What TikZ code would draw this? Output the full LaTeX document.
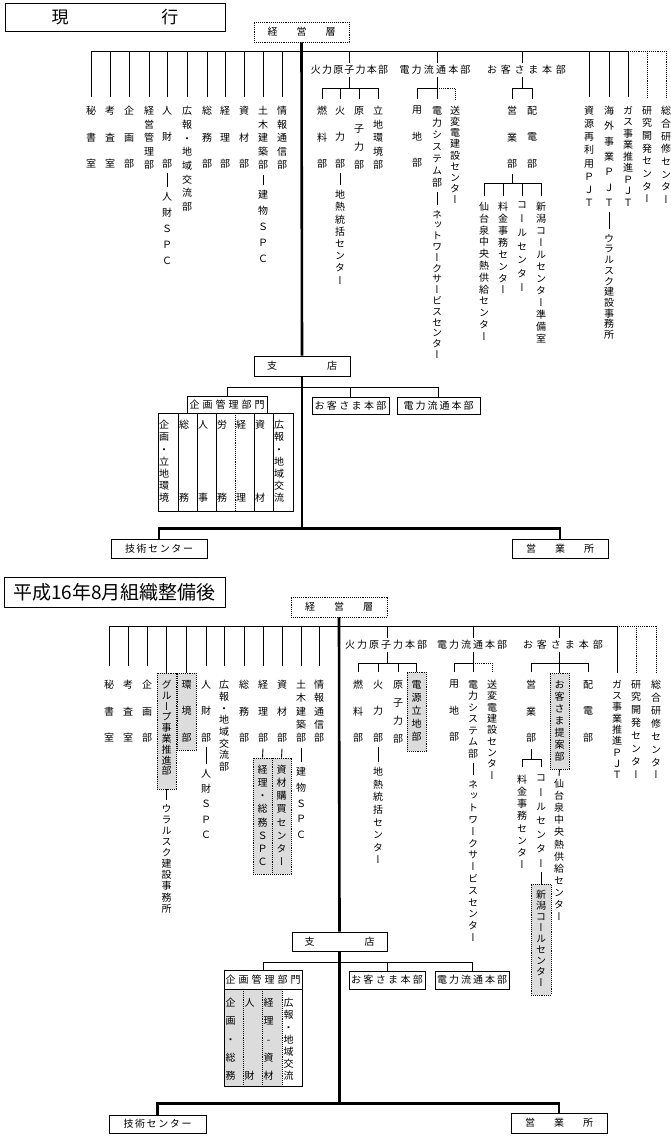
\documentclass[tikz,border=0pt]{standalone}
\usepackage{fontspec}
\setmainfont{Noto Sans CJK JP}
\newfontfamily\vf{Noto Sans CJK JP}[RawFeature=+vert]
\usetikzlibrary{calc}
\definecolor{boxgray}{HTML}{DCDCDC}
\def\vtend{VTEND}
\newdimen\chpitch
\def\vst#1#2{\vbox{\baselineskip=#1\relax\lineskiplimit=-100pt\relax\lineskip=0pt\relax\expandafter\vstl#2\vtend}}
\def\vstl#1{\ifx#1\vtend\else\hbox to 1.2em{\hss#1\hss}\expandafter\vstl\fi}
\def\hst#1#2{\chpitch=#1\relax\expandafter\hstl#2\vtend}
\def\hstl#1{\ifx#1\vtend\else\hbox to\chpitch{\hss#1\hss}\expandafter\hstl\fi}
\newcommand\VL[5]{\node[vt] (#1) at (#2,#3) {\vst{#4pt}{#5}};}
\newcommand\DROP[4][]{\draw[ln,#1] (#3.north |- #2) -- ([yshift=#4pt]#3.north);}
\newcommand\TICK[2]{\draw[ln] ([yshift=-5pt]#1.south) -- ([yshift=5pt]#2.north);}
\begin{document}
\begin{tikzpicture}[x=1pt,y=-1pt,
  ln/.style={line width=0.9pt},
  trunk/.style={line width=2.6pt},
  vt/.style={inner sep=0pt, anchor=north, font=\vf\fontsize{10pt}{12pt}\selectfont},
  ht/.style={inner sep=0pt, font=\fontsize{10pt}{12pt}\selectfont},
  bx/.style={draw, line width=0.9pt, inner sep=0pt, font=\fontsize{10pt}{12pt}\selectfont},
  dbx/.style={bx, densely dotted},
  gbx/.style={draw, densely dotted, line width=0.9pt, fill=boxgray, inner sep=0pt}]
\useasboundingbox (0,0) rectangle (670,1136);

% ================= TOP: current =================
\node[bx, minimum width=220pt, minimum height=28pt, font=\fontsize{17pt}{17pt}\selectfont] (title1) at (115,17) {現\hspace{93pt}行};
\node[dbx, minimum width=95pt, minimum height=20pt] (keiei1) at (301.5,32) {経\hspace{19pt}営\hspace{19pt}層};
\coordinate (bar1) at (0,51);
\coordinate (sb1) at (0,88);
\coordinate (sb1b) at (0,183);

\VL{hisho1}{91}{106}{26.5}{秘書室}
\VL{kousa1}{110}{106}{26.5}{考査室}
\VL{kikaku1}{129}{106}{26.5}{企画部}
\VL{keikan1}{149}{106}{13.5}{経営管理部}
\VL{jinzai1}{167}{106}{26.5}{人財部}
\VL{jspc1}{167}{192}{16}{人財ＳＰＣ}
\VL{kouhou1}{187}{106}{13.7}{広報・地域交流部}
\VL{soumu1}{207}{106}{26.5}{総務部}
\VL{keiri1}{225}{106}{26.5}{経理部}
\VL{shizai1}{244}{106}{26.5}{資材部}
\VL{doboku1}{263}{106}{13.5}{土木建築部}
\VL{tspc1}{263}{190}{16}{建物ＳＰＣ}
\VL{jouhou1}{282}{106}{13.5}{情報通信部}

\node[ht] (hk1) at (349.5,70) {\hst{11.2pt}{火力原子力本部}};
\VL{nenryou1}{322}{106}{26.5}{燃料部}
\VL{karyoku1}{340}{106}{26.5}{火力部}
\VL{chinetsu1}{340}{190}{12.2}{地熱統括センター}
\VL{genshi1}{359}{106}{18}{原子力部}
\VL{ritchi1}{378}{106}{13.5}{立地環境部}

\node[ht] (hd1) at (435,70) {\hst{12.2pt}{電力流通本部}};
\VL{youchi1}{417}{106}{26.5}{用地部}
\VL{densys1}{437}{106}{12}{電力システム部}
\VL{network1}{437}{210}{10.8}{ネットワークサービスセンター}
\VL{souhen1}{455}{106}{11.1}{送変電建設センター}

\node[ht] (ho1) at (526.5,70) {\hst{13.8pt}{お客さま本部}};
\VL{eigyou1}{512}{106}{26.5}{営業部}
\VL{haiden1}{532}{106}{26.5}{配電部}
\VL{sendai1}{484}{202}{11.8}{仙台泉中央熱供給センター}
\VL{ryoukin1}{503}{202}{11.9}{料金事務センター}
\VL{call1}{522}{202}{13.7}{コールセンター}
\VL{niigata1}{541}{202}{12}{新潟コールセンター準備室}

\VL{shigen1}{589}{106}{13.1}{資源再利用ＰＪＴ}
\VL{kaigai1}{609}{106}{15.3}{海外事業ＰＪＴ}
\VL{ural1}{609}{234}{10.7}{ウラルスク建設事務所}
\VL{gas1}{628}{106}{11.5}{ガス事業推進ＰＪＴ}
\VL{kenkyu1}{647}{106}{12.7}{研究開発センター}
\VL{kenshu1}{666}{106}{12.7}{総合研修センター}

% top bar and drops
\draw[ln] (hisho1.north |- bar1) -- (gas1.north |- bar1);
\draw[ln, densely dotted] (gas1.north |- bar1) -- (kenshu1.north |- bar1);
\foreach \n in {hisho1,kousa1,kikaku1,keikan1,jinzai1,kouhou1,soumu1,keiri1,shizai1,doboku1,jouhou1,shigen1,kaigai1,gas1}
  {\DROP{bar1}{\n}{9}}
\DROP[densely dotted]{bar1}{kenkyu1}{9}
\DROP[densely dotted]{bar1}{kenshu1}{9}
\TICK{jinzai1}{jspc1}
\TICK{doboku1}{tspc1}
\TICK{karyoku1}{chinetsu1}
\TICK{densys1}{network1}
\TICK{kaigai1}{ural1}

% thermal/nuclear
\draw[ln] (349,51) -- (349,62.5);
\draw[ln] (349,77) -- (349,88);
\draw[ln] (nenryou1.north |- sb1) -- (ritchi1.north |- sb1);
\foreach \n in {nenryou1,karyoku1,genshi1,ritchi1} {\DROP{sb1}{\n}{7}}
% power network
\draw[ln] (densys1.north |- bar1) -- (437,62.5);
\draw[ln] (437,77) -- (densys1.north |- sb1);
\draw[ln] (youchi1.north |- sb1) -- (densys1.north |- sb1);
\DROP{sb1}{youchi1}{7}
\DROP{sb1}{densys1}{7}
\draw[ln, densely dotted] (densys1.north |- sb1) -- (souhen1.north |- sb1) -- ([yshift=7pt]souhen1.north);
% customer
\draw[ln] (522,51) -- (522,62.5);
\draw[ln] (522,77) -- (522,88);
\draw[ln] (eigyou1.north |- sb1) -- (haiden1.north |- sb1);
\DROP{sb1}{eigyou1}{7}
\DROP{sb1}{haiden1}{7}
\draw[ln] ([yshift=-5pt]eigyou1.south) -- (eigyou1.south |- sb1b);
\draw[ln] (sendai1.north |- sb1b) -- (niigata1.north |- sb1b);
\foreach \n in {sendai1,ryoukin1,call1,niigata1} {\DROP{sb1b}{\n}{6}}

% branch part
\node[bx, minimum width=96pt, minimum height=20pt] (shiten1) at (302,366) {支\hspace{50pt}店};
\draw[trunk] (keiei1.south) -- (shiten1.north);
\coordinate (bar2) at (0,387);
\node[bx, minimum width=80pt, minimum height=17pt] (kk1) at (227,404.5) {\hst{13pt}{企画管理部門}};
\node[bx, minimum width=77pt, minimum height=17pt] (okb1) at (350.5,405.5) {\hst{12.4pt}{お客さま本部}};
\node[bx, minimum width=83pt, minimum height=17pt] (dnb1) at (438.5,405.5) {\hst{12pt}{電力流通本部}};
\draw[ln] (kk1.north) -- (kk1.north |- bar2) -- (dnb1.north |- bar2) -- (dnb1.north);
\draw[ln] (okb1.north |- bar2) -- (okb1.north);
\node[bx, minimum width=135pt, minimum height=98pt] (table1) at (225.5,462) {};
\foreach \xx in {178,197,216,254,273} {\draw[ln] (\xx,413) -- (\xx,511);}
\draw[ln, densely dotted] (235,413) -- (235,511);
\VL{tc1}{164}{420}{12.2}{企画・立地環境}
\VL{tc2}{184}{420}{73}{総務}
\VL{tc3}{203}{420}{73}{人事}
\VL{tc4}{222}{420}{73}{労務}
\VL{tc5}{241}{420}{73}{経理}
\VL{tc6}{260}{420}{73}{資材}
\VL{tc7}{279}{420}{12.2}{広報・地域交流}

\coordinate (bot1) at (0,528.5);
\node[bx, minimum width=96pt, minimum height=19pt] (gijutsu1) at (159,548.5) {\hst{11.6pt}{技術センター}};
\node[bx, minimum width=96pt, minimum height=19pt] (eigyousho1) at (560,548.5) {営\hspace{19pt}業\hspace{19pt}所};
\draw[trunk] (shiten1.south) -- (shiten1.south |- bot1);
\draw[trunk] (gijutsu1.north) -- (gijutsu1.north |- bot1) -- (eigyousho1.north |- bot1) -- (eigyousho1.north);

% ================= BOTTOM: after reorganisation =================
\node[bx, minimum width=221pt, minimum height=30pt, font=\fontsize{19pt}{19pt}\selectfont] (title2) at (114.5,592) {平成16年8月組織整備後};
\node[dbx, minimum width=96pt, minimum height=20pt] (keiei2) at (339,607) {経\hspace{19pt}営\hspace{19pt}層};
\coordinate (bar3) at (0,626);
\coordinate (sb3) at (0,663);
\coordinate (sb4) at (0,759);

\VL{hisho2}{109}{680}{26.5}{秘書室}
\VL{kousa2}{128}{680}{26.5}{考査室}
\VL{kikaku2}{147}{680}{26.5}{企画部}
\node[gbx, minimum width=19pt, minimum height=116pt] (grpbox2) at (166.5,731) {};
\VL{group2}{166.5}{680}{10.8}{グループ事業推進部}
\VL{ural2}{166.5}{804}{11.1}{ウラルスク建設事務所}
\node[gbx, minimum width=19pt, minimum height=77pt] (kkbox2) at (186.5,711.5) {};
\VL{kankyo2}{186.5}{680}{26.5}{環境部}
\VL{jinzai2}{206}{680}{26.5}{人財部}
\VL{jspc2}{206}{769}{15.25}{人財ＳＰＣ}
\VL{kouhou2}{224}{680}{11.7}{広報・地域交流部}
\VL{soumu2}{244}{680}{26.5}{総務部}
\VL{keiri2}{263}{680}{26.5}{経理部}
\node[gbx, minimum width=19pt, minimum height=116pt] (kspcbox2) at (262.5,816) {};
\VL{kspc2}{262.5}{765}{13.1}{経理・総務ＳＰＣ}
\VL{shizai2}{282}{680}{26.5}{資材部}
\node[gbx, minimum width=19pt, minimum height=116pt] (skbox2) at (281.5,816) {};
\VL{skou2}{281.5}{765}{13.1}{資材購買センター}
\VL{doboku2}{301}{680}{13.3}{土木建築部}
\VL{tspc2}{301}{767}{15.75}{建物ＳＰＣ}
\VL{jouhou2}{319}{680}{13.3}{情報通信部}

\node[ht] (hk2) at (386,645) {\hst{12pt}{火力原子力本部}};
\VL{nenryou2}{358}{680}{26.5}{燃料部}
\VL{karyoku2}{378}{680}{26.5}{火力部}
\VL{chinetsu2}{378}{767}{12.6}{地熱統括センター}
\VL{genshi2}{398}{680}{18}{原子力部}
\node[gbx, minimum width=19pt, minimum height=79pt] (dgbox2) at (416.5,711.5) {};
\VL{dengen2}{416.5}{680}{13}{電源立地部}

\node[ht] (hd2) at (472,645) {\hst{12pt}{電力流通本部}};
\VL{youchi2}{454}{680}{26.5}{用地部}
\VL{densys2}{473}{680}{11.5}{電力システム部}
\VL{network2}{473}{780}{11.8}{ネットワークサービスセンター}
\VL{souhen2}{492}{680}{11.3}{送変電建設センター}

\node[ht] (ho2) at (563,645) {\hst{14pt}{お客さま本部}};
\VL{eigyou2}{531}{680}{26.5}{営業部}
\VL{ryoukin2}{522}{775}{12.1}{料金事務センター}
\VL{call2}{541}{775}{14.2}{コールセンター}
\node[gbx, minimum width=20pt, minimum height=111pt] (ngbox2) at (541,939.5) {};
\VL{niigata2}{541}{890}{11}{新潟コールセンター}
\node[gbx, minimum width=19pt, minimum height=96pt] (tabox2) at (559.5,721) {};
\VL{teian2}{559.5}{680}{12}{お客さま提案部}
\VL{sendai2}{559}{779}{12.1}{仙台泉中央熱供給センター}
\VL{haiden2}{588}{680}{26.5}{配電部}
\VL{gas2}{617}{680}{11.3}{ガス事業推進ＰＪＴ}
\VL{kenkyu2}{636}{680}{12.9}{研究開発センター}
\VL{kenshu2}{656}{680}{12.9}{総合研修センター}

% bottom bar and drops
\draw[ln] (hisho2.north |- bar3) -- (gas2.north |- bar3);
\draw[ln, densely dotted] (gas2.north |- bar3) -- (kenshu2.north |- bar3);
\foreach \n in {hisho2,kousa2,kikaku2,jinzai2,kouhou2,soumu2,keiri2,shizai2,doboku2,jouhou2}
  {\DROP{bar3}{\n}{14}}
\draw[ln] (grpbox2.north |- bar3) -- (grpbox2.north);
\draw[ln] (kkbox2.north |- bar3) -- (kkbox2.north);
\DROP{bar3}{gas2}{7}
\DROP[densely dotted]{bar3}{kenkyu2}{7}
\DROP[densely dotted]{bar3}{kenshu2}{7}
\draw[ln] (grpbox2.south) -- ([yshift=4pt]ural2.north);
\TICK{jinzai2}{jspc2}
\TICK{doboku2}{tspc2}
\TICK{karyoku2}{chinetsu2}
\TICK{densys2}{network2}
\draw[ln] ([yshift=-6pt]keiri2.south) -- (kspcbox2.north);
\draw[ln] ([yshift=-6pt]shizai2.south) -- (skbox2.north);

% thermal/nuclear
\draw[ln] (387,626) -- (387,637.5);
\draw[ln] (387,652) -- (387,663);
\draw[ln] (nenryou2.north |- sb3) -- (dgbox2.north |- sb3);
\foreach \n in {nenryou2,karyoku2,genshi2} {\DROP{sb3}{\n}{8}}
\draw[ln] (dgbox2.north |- sb3) -- (dgbox2.north);
% power network
\draw[ln] (densys2.north |- bar3) -- (473,637.5);
\draw[ln] (473,652) -- (densys2.north |- sb3);
\draw[ln] (youchi2.north |- sb3) -- (densys2.north |- sb3);
\DROP{sb3}{youchi2}{8}
\DROP{sb3}{densys2}{8}
\draw[ln, densely dotted] (densys2.north |- sb3) -- (souhen2.north |- sb3) -- ([yshift=8pt]souhen2.north);
% customer
\draw[ln] (tabox2.north |- bar3) -- (559.5,637.5);
\draw[ln] (559.5,652) -- (tabox2.north |- sb3);
\draw[ln] (eigyou2.north |- sb3) -- (haiden2.north |- sb3);
\DROP{sb3}{eigyou2}{8}
\DROP{sb3}{haiden2}{8}
\draw[ln] (tabox2.north |- sb3) -- (tabox2.north);
\draw[ln] ([yshift=-6pt]eigyou2.south) -- (eigyou2.south |- sb4);
\draw[ln] (ryoukin2.north |- sb4) -- (call2.north |- sb4);
\DROP{sb4}{ryoukin2}{8}
\DROP{sb4}{call2}{8}
\draw[ln] ([yshift=-5pt]call2.south) -- (ngbox2.north);
\draw[ln] (tabox2.south) -- ([yshift=3pt]sendai2.north);

% branch part
\node[bx, minimum width=95pt, minimum height=19pt] (shiten2) at (339.5,941.5) {支\hspace{50pt}店};
\draw[trunk] (keiei2.south) -- (shiten2.north);
\coordinate (bar5) at (0,962);
\node[bx, minimum width=78pt, minimum height=19pt] (kk2) at (263,979.5) {\hst{13pt}{企画管理部門}};
\node[bx, minimum width=76pt, minimum height=18pt] (okb2) at (387,980) {\hst{12.4pt}{お客さま本部}};
\node[bx, minimum width=74pt, minimum height=18pt] (dnb2) at (472,980) {\hst{12pt}{電力流通本部}};
\draw[ln] (kk2.north) -- (kk2.north |- bar5) -- (dnb2.north |- bar5) -- (dnb2.north);
\draw[ln] (okb2.north |- bar5) -- (okb2.north);
\node[fill=boxgray, minimum width=58pt, minimum height=97pt, inner sep=0pt] (t2fill) at (253,1037.5) {};
\node[bx, minimum width=78pt, minimum height=97pt] (table2) at (263,1037.5) {};
\foreach \xx in {243,262,282} {\draw[ln, densely dotted] (\xx,989) -- (\xx,1086);}
\VL{uc1}{230.5}{998}{18.25}{企画・総務}
\VL{uc2}{249.5}{998}{73}{人財}
\VL{uc3}{268.5}{998}{18.25}{経理-資材}
\VL{uc4}{288.5}{998}{12.2}{広報・地域交流}

\coordinate (bot2) at (0,1103.5);
\node[bx, minimum width=97pt, minimum height=18pt] (gijutsu2) at (157.5,1124) {\hst{11.6pt}{技術センター}};
\node[bx, minimum width=96pt, minimum height=20pt] (eigyousho2) at (559,1123) {営\hspace{19pt}業\hspace{19pt}所};
\draw[trunk] (shiten2.south) -- (shiten2.south |- bot2);
\draw[trunk] (gijutsu2.north) -- (gijutsu2.north |- bot2) -- (eigyousho2.north |- bot2) -- (eigyousho2.north);
\end{tikzpicture}
\end{document}
